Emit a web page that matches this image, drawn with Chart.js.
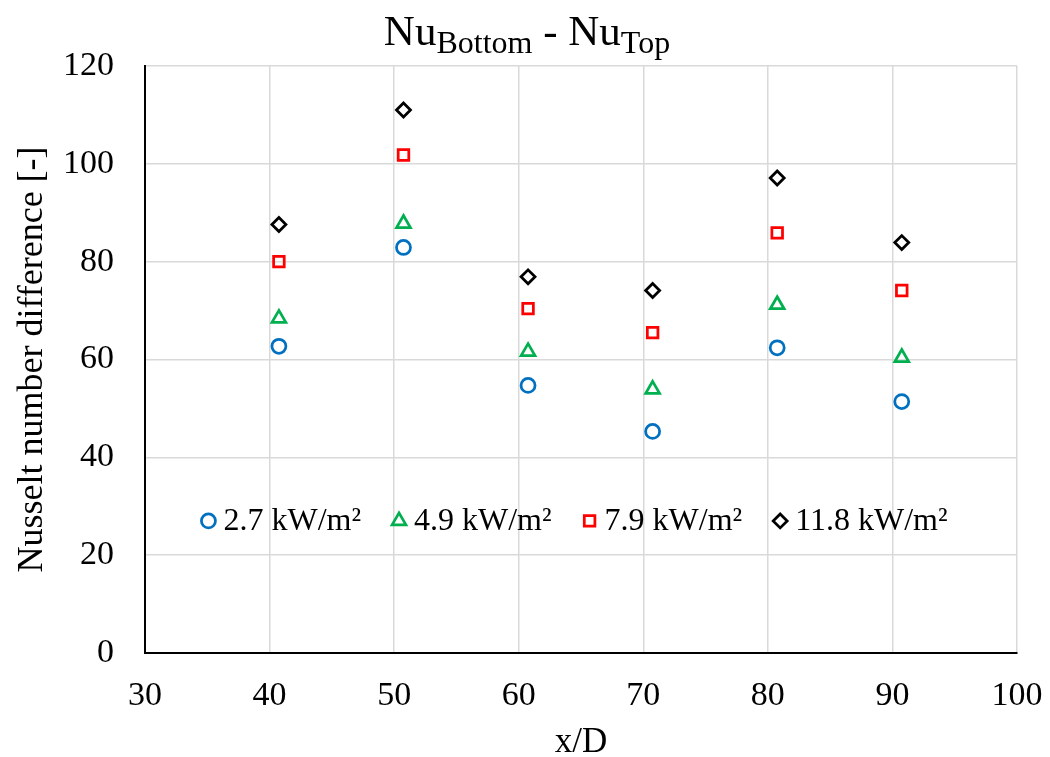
<!DOCTYPE html>
<html>
<head>
<meta charset="utf-8">
<title>Nu Bottom - Nu Top</title>
<script src="https://cdn.jsdelivr.net/npm/chart.js@4.4.1/dist/chart.umd.min.js"></script>
<style>
  body { margin: 0; background: #fff; }
  #wrap { width: 1050px; height: 757px; position: relative; }
</style>
</head>
<body>
<div id="wrap"><canvas id="nu-chart"></canvas></div>
<script>
// x/D stations and Nusselt differences for each heat flux
const xD = [40.75, 50.75, 60.75, 70.75, 80.75, 90.75];
const flux27 = [62.7, 82.9, 54.7, 45.3, 62.4, 51.4];
const flux49 = [68.4, 87.8, 61.6, 53.9, 71.2, 60.4];
const flux79 = [80.0, 101.8, 70.4, 65.5, 85.9, 74.1];
const flux118 = [87.6, 111.0, 76.9, 74.1, 97.1, 83.9];
const seriesLabels = ["2.7 kW/m²", "4.9 kW/m²", "7.9 kW/m²", "11.8 kW/m²"];
const xTicks = [30, 100, 10];
const yTicks = [0, 120, 20];
const titleParts = [
  { text: "Nu", sub: false },
  { text: "Bottom", sub: true },
  { text: " - Nu", sub: false },
  { text: "Top", sub: true },
];

const serif = "'Liberation Serif', 'Times New Roman', serif";
Chart.defaults.font.family = serif;
Chart.defaults.color = "#000";

function points(values) {
  return values.map((v, i) => ({ x: xD[i], y: v }));
}

const styles = [
  { color: "#0070C0", pointStyle: "circle", radius: 7 },
  { color: "#00B050", pointStyle: "triangle", radius: 8 },
  { color: "#FF0000", pointStyle: "rect", radius: 7.5 },
  { color: "#000000", pointStyle: "rectRot", radius: 7 },
];
const seriesValues = [flux27, flux49, flux79, flux118];

const datasets = seriesValues.map((vals, i) => ({
  label: seriesLabels[i],
  data: points(vals),
  pointStyle: styles[i].pointStyle,
  pointRadius: styles[i].radius,
  pointBorderWidth: 2.75,
  pointBorderColor: styles[i].color,
  pointBackgroundColor: "rgba(255,255,255,0)",
  showLine: false,
}));

// Title with subscripts, drawn above the plot
const subTitle = {
  id: "subTitle",
  afterDraw(chart) {
    const ctx = chart.ctx;
    ctx.save();
    ctx.fillStyle = "#000";
    ctx.textBaseline = "alphabetic";
    const big = "43px " + serif, small = "32px " + serif;
    let total = 0;
    titleParts.forEach((p) => {
      ctx.font = p.sub ? small : big;
      total += ctx.measureText(p.text).width;
    });
    let x = chart.width / 2 + 2 - total / 2;
    const base = 45;
    titleParts.forEach((p) => {
      ctx.font = p.sub ? small : big;
      ctx.fillText(p.text, x, p.sub ? base + 8 : base);
      x += ctx.measureText(p.text).width;
    });
    ctx.restore();
  },
};

// Legend row inside the plot area
const innerLegend = {
  id: "innerLegend",
  afterDraw(chart) {
    const ctx = chart.ctx;
    const area = chart.chartArea;
    const y = chart.scales.y.getPixelForValue(27);
    const markW = 16, markGap = 7, itemGap = 30;
    ctx.save();
    ctx.font = "32px " + serif;
    const widths = chart.data.datasets.map((d) => markW + markGap + ctx.measureText(d.label).width);
    const total = widths.reduce((a, b) => a + b, 0) + itemGap * (widths.length - 1);
    let x = (area.left + area.right) / 2 - 7 - total / 2;
    chart.data.datasets.forEach((d, i) => {
      ctx.strokeStyle = d.pointBorderColor;
      ctx.fillStyle = "rgba(255,255,255,0)";
      ctx.lineWidth = d.pointBorderWidth;
      Chart.helpers.drawPoint(ctx, {
        pointStyle: d.pointStyle,
        radius: d.pointRadius,
        rotation: 0,
        borderWidth: d.pointBorderWidth,
      }, x + markW / 2, y);
      ctx.fillStyle = "#000";
      ctx.textBaseline = "middle";
      ctx.fillText(d.label, x + markW + markGap, y + 1);
      x += widths[i] + itemGap;
    });
    ctx.restore();
  },
};

const ctx = document.getElementById("nu-chart").getContext("2d");
const nuChart = new Chart(ctx, {
  type: "scatter",
  data: { datasets: datasets },
  plugins: [subTitle, innerLegend],
  options: {
    responsive: true,
    maintainAspectRatio: false,
    animation: false,
    layout: { padding: { top: 66, right: 33, left: 0, bottom: 0 } },
    plugins: {
      legend: { display: false },
      tooltip: { enabled: false },
    },
    scales: {
      x: {
        type: "linear",
        min: xTicks[0],
        max: xTicks[1],
        ticks: { stepSize: xTicks[2], padding: 23, font: { size: 34 } },
        grid: { color: "#d9d9d9", lineWidth: 1.5, drawTicks: false },
        border: { color: "#000", width: 2 },
        title: {
          display: true,
          text: "x/D",
          font: { size: 35, lineHeight: 0.8 },
          padding: { top: 0, bottom: 0 },
        },
        afterFit(scale) {
          scale.height = 104;
          scale.paddingLeft = 0;
          scale.paddingRight = 0;
        },
      },
      y: {
        min: yTicks[0],
        max: yTicks[1],
        ticks: { stepSize: yTicks[2], padding: 31, font: { size: 34 } },
        grid: { color: "#d9d9d9", lineWidth: 1.5, drawTicks: false },
        border: { color: "#000", width: 2 },
        title: {
          display: true,
          text: "Nusselt number difference [-]",
          font: { size: 36, lineHeight: 1 },
          padding: { top: 15, bottom: 0 },
        },
        afterFit(scale) {
          scale.width = 145;
          scale.paddingTop = 0;
          scale.paddingBottom = 0;
        },
      },
    },
  },
});
</script>
</body>
</html>
